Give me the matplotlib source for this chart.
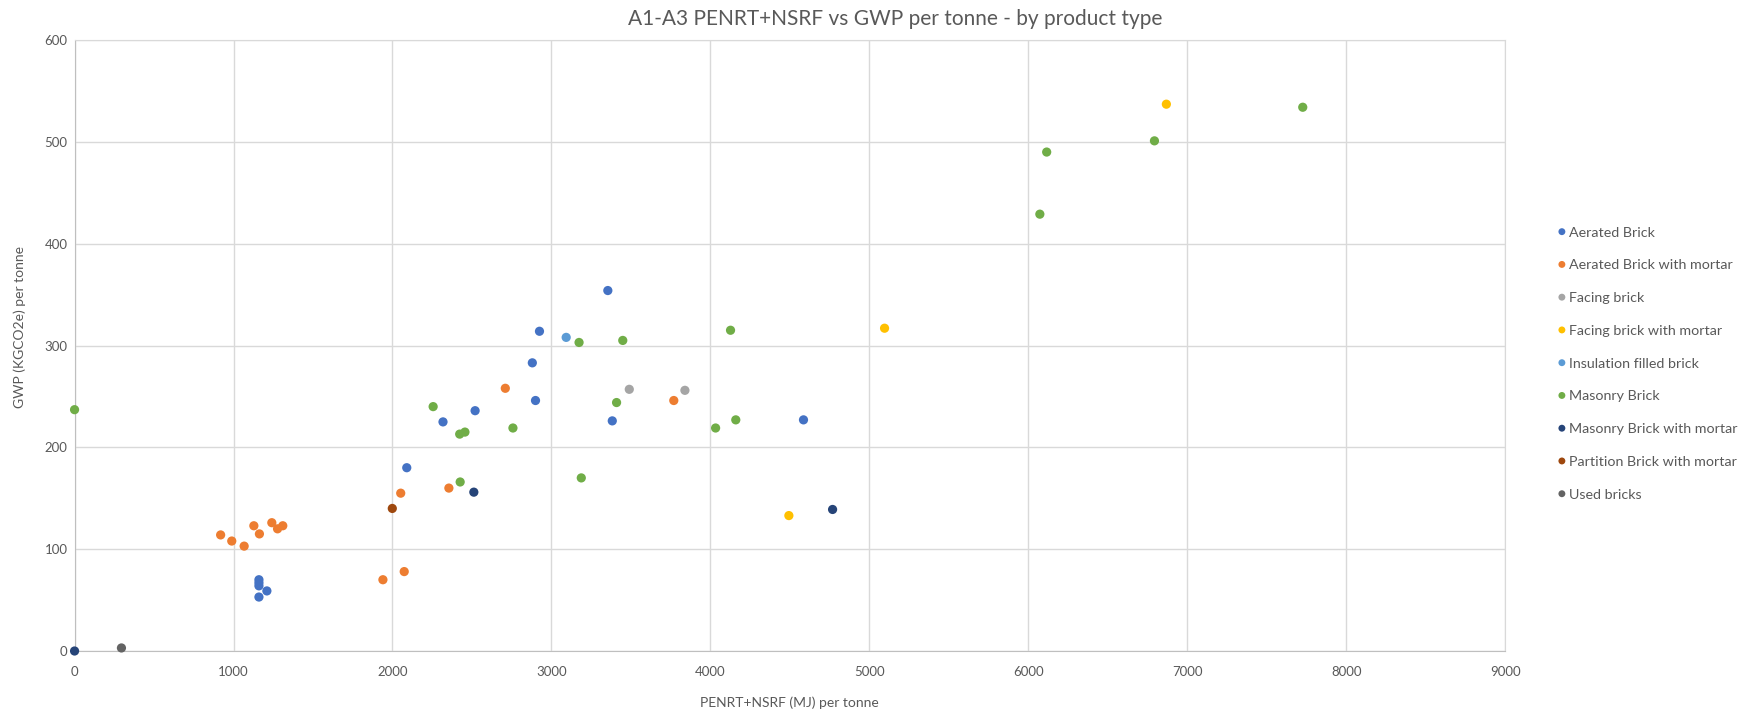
import matplotlib.pyplot as plt

# Scatter data (PENRT+NSRF MJ/t, GWP kgCO2e/t)
aerated_x = [1160, 1160, 1160, 1160, 1210, 2090, 2318, 2520, 2880, 2900, 2925, 3355, 3383, 4586]
aerated_y = [70, 67, 64, 53, 59, 180, 225, 236, 283, 246, 314, 354, 226, 227]

aerated_mortar_x = [919, 989, 1067, 1128, 1163, 1241, 1277, 1310, 1940, 2052, 2074, 2355, 2710, 3770]
aerated_mortar_y = [114, 108, 103, 123, 115, 126, 120, 123, 70, 155, 78, 160, 258, 246]

facing_x = [3490, 3840]
facing_y = [257, 256]

facing_mortar_x = [4494, 5096, 6869]
facing_mortar_y = [133, 317, 537]

insulation_x = [3093]
insulation_y = [308]

masonry_x = [0, 2256, 2423, 2456, 2426, 2758, 3174, 3188, 3410, 3449, 4033, 4127, 4160,
             6073, 6116, 6794, 7727]
masonry_y = [237, 240, 213, 215, 166, 219, 303, 170, 244, 305, 219, 315, 227,
             429, 490, 501, 534]

masonry_mortar_x = [0, 2512, 4769]
masonry_mortar_y = [0, 156, 139]

partition_mortar_x = [1999]
partition_mortar_y = [140]

used_x = [295]
used_y = [3]

series = [
    ('Aerated Brick', aerated_x, aerated_y, '#4472C4'),
    ('Aerated Brick with mortar', aerated_mortar_x, aerated_mortar_y, '#ED7D31'),
    ('Facing brick', facing_x, facing_y, '#A5A5A5'),
    ('Facing brick with mortar', facing_mortar_x, facing_mortar_y, '#FFC000'),
    ('Insulation filled brick', insulation_x, insulation_y, '#5B9BD5'),
    ('Masonry Brick', masonry_x, masonry_y, '#70AD47'),
    ('Masonry Brick with mortar', masonry_mortar_x, masonry_mortar_y, '#264478'),
    ('Partition Brick with mortar', partition_mortar_x, partition_mortar_y, '#9E480E'),
    ('Used bricks', used_x, used_y, '#636363'),
]

plt.rcParams['font.family'] = ['Lato', 'DejaVu Sans']

fig = plt.figure(figsize=(17.42, 7.15), dpi=100)
ax = fig.add_axes([0.0428, 0.0895, 0.8212, 0.8545])

# points on the axes (x=0 / y=0) are shown whole in the original, so no clipping
for name, xs, ys, col in series:
    ax.scatter(xs, ys, s=44, c=col, edgecolors='none', label=name, zorder=3, clip_on=False)

ax.set_xlim(0, 9000)
ax.set_ylim(0, 600)
ax.set_xticks(range(0, 9001, 1000))
ax.set_yticks(range(0, 601, 100))

ax.grid(True, color='#D9D9D9', linewidth=1.0, zorder=0)
ax.set_axisbelow(True)
for side in ['top', 'right']:
    ax.spines[side].set_color('#D9D9D9')
for side in ['left', 'bottom']:
    ax.spines[side].set_color('#BFBFBF')

ax.tick_params(axis='both', length=0, labelsize=9.5, labelcolor='#595959')
ax.tick_params(axis='x', pad=11)
ax.tick_params(axis='y', pad=5)

ax.set_xlabel('PENRT+NSRF (MJ) per tonne', fontsize=10, color='#595959')
ax.xaxis.set_label_coords(0.5, -0.075)
ax.set_ylabel('GWP (KGCO2e) per tonne', fontsize=10, color='#595959')
ax.yaxis.set_label_coords(-0.034, 0.53)

fig.text(0.514, 0.973, 'A1-A3 PENRT+NSRF vs GWP per tonne - by product type',
         ha='center', va='center', fontsize=15, color='#595959')

leg = ax.legend(loc='upper left', bbox_to_anchor=(0.8925, 0.683), bbox_transform=fig.transFigure,
                frameon=False, fontsize=10.3, labelspacing=1.45, handletextpad=0.0,
                borderaxespad=0, borderpad=0, markerscale=0.75, scatteryoffsets=[0.5],
                handlelength=1.0)
for t in leg.get_texts():
    t.set_color('#595959')

fig.savefig('out.png', dpi=100)
